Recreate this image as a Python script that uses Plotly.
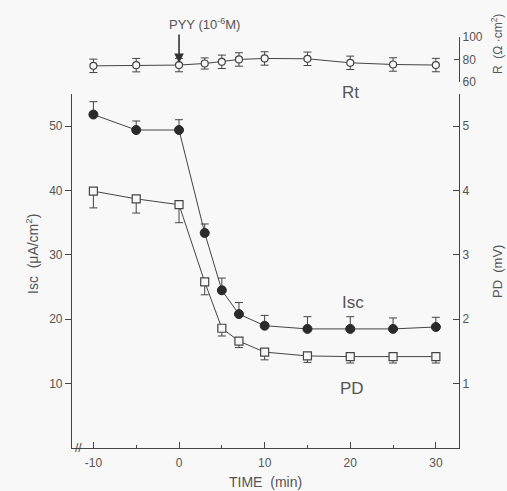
import plotly.graph_objects as go

time_min = [-10, -5, 0, 3, 5, 7, 10, 15, 20, 25, 30]
isc_mean = [51.8, 49.4, 49.4, 33.4, 24.5, 20.8, 19.0, 18.5, 18.5, 18.5, 18.8]
isc_err_up = [2.0, 1.4, 1.6, 1.4, 1.9, 1.8, 1.6, 1.9, 1.9, 1.7, 1.5]
pd_mean = [3.99, 3.87, 3.78, 2.58, 1.86, 1.66, 1.49, 1.43, 1.42, 1.42, 1.42]
pd_err_down = [0.26, 0.22, 0.28, 0.20, 0.12, 0.10, 0.12, 0.10, 0.10, 0.10, 0.10]
rt_mean = [74.3, 74.9, 75.0, 76.4, 77.9, 80.0, 80.9, 80.6, 77.0, 75.5, 75.0]
rt_err = [6, 6, 6, 5, 6, 6, 6, 6, 6, 6, 6]

x_ticks = [-10, 0, 10, 20, 30]
x_tick_text = ["-10", "0", "10", "20", "30"]
x_minor = [-5, 5, 15, 25]
isc_ticks = [10, 20, 30, 40, 50]
pd_ticks = [1, 2, 3, 4, 5]
rt_ticks = [60, 80, 100]

BG = "#f8f8f8"
LC = "#444444"
TC = "#555555"
FONT = "Liberation Sans"

fig = go.Figure()

fig.add_trace(go.Scatter(
    x=time_min, y=isc_mean, mode="lines+markers", xaxis="x", yaxis="y",
    line=dict(color=LC, width=1),
    marker=dict(symbol="circle", size=9, color="#2a2a2a", line=dict(color="#2a2a2a", width=1)),
    error_y=dict(type="data", symmetric=False, array=isc_err_up,
                 arrayminus=[0] * len(isc_err_up), color=LC, thickness=1, width=4),
    showlegend=False,
))

fig.add_trace(go.Scatter(
    x=time_min, y=pd_mean, mode="lines+markers", xaxis="x", yaxis="y2",
    line=dict(color=LC, width=1),
    marker=dict(symbol="square", size=8, color=BG, line=dict(color=LC, width=1.2)),
    error_y=dict(type="data", symmetric=False, array=[0] * len(pd_err_down),
                 arrayminus=pd_err_down, color=LC, thickness=1, width=4),
    showlegend=False,
))

fig.add_trace(go.Scatter(
    x=time_min, y=rt_mean, mode="lines+markers", xaxis="x2", yaxis="y3",
    line=dict(color=LC, width=1),
    marker=dict(symbol="circle", size=7, color=BG, line=dict(color=LC, width=1.2)),
    error_y=dict(type="data", array=rt_err, color=LC, thickness=1, width=4),
    showlegend=False, cliponaxis=False,
))

xr = [-12.5, 32.7]
axis_font = dict(family=FONT, size=12, color=TC)

fig.update_layout(
    width=507, height=491,
    margin=dict(l=72, r=48, t=30, b=43),
    paper_bgcolor=BG, plot_bgcolor=BG,
    font=dict(family=FONT, color=TC),
    xaxis=dict(
        domain=[0, 1], range=xr, anchor="y",
        showline=True, linecolor=LC, linewidth=1.2, showgrid=False, zeroline=False,
        tickmode="array", tickvals=x_ticks, ticktext=x_tick_text,
        ticks="inside", ticklen=6, tickcolor=LC,
        tickfont=axis_font, ticklabelstandoff=3,
        minor=dict(tickmode="array", tickvals=x_minor, ticks="inside", ticklen=3, tickcolor=LC),
    ),
    yaxis=dict(
        domain=[0, 0.847], range=[0, 55], anchor="x",
        showline=True, linecolor=LC, linewidth=1.2, showgrid=False, zeroline=False,
        tickmode="array", tickvals=isc_ticks, ticks="outside", ticklen=6, tickcolor=LC,
        tickfont=axis_font,
    ),
    yaxis2=dict(
        domain=[0, 0.847], range=[0, 5.5], anchor="x", overlaying="y", side="right",
        showline=True, linecolor=LC, linewidth=1.2, showgrid=False, zeroline=False,
        tickmode="array", tickvals=pd_ticks, ticks="inside", ticklen=6, tickcolor=LC,
        tickfont=axis_font,
    ),
    xaxis2=dict(domain=[0, 1], range=xr, anchor="y3", visible=False),
    yaxis3=dict(
        domain=[0.876, 0.983], range=[60, 100], anchor="x2", side="right",
        showline=True, linecolor=LC, linewidth=1.2, showgrid=False, zeroline=False,
        tickmode="array", tickvals=rt_ticks, ticks="inside", ticklen=5, tickcolor=LC,
        tickfont=axis_font,
    ),
)

W = 507 - 72 - 48
H = 491 - 30 - 43


def px(xp):
    return (xp - 72) / W


def py(yp):
    return (448 - yp) / H


# arrow for PYY
fig.add_annotation(x=0, y=py(63), xref="x", yref="paper", text="", showarrow=True,
                   ax=0, ay=-30, arrowhead=2, arrowsize=1.2, arrowwidth=1.6,
                   arrowcolor="#333333")

labels = [
    dict(text="PYY (10<sup>-6</sup>M)", x=px(204), y=py(24), size=13, angle=0),
    dict(text="Rt", x=px(350), y=py(92), size=17, angle=0),
    dict(text="Isc", x=px(353), y=py(302), size=17, angle=0),
    dict(text="PD", x=px(352), y=py(388), size=17, angle=0),
    dict(text="Isc  (\u03bcA/cm<sup>2</sup>)", x=px(32), y=py(254), size=14, angle=-90),
    dict(text="PD  (mV)", x=px(497), y=py(272), size=13, angle=-90),
    dict(text="R  (\u03a9 \u00b7cm<sup>2</sup>)", x=px(497), y=py(44), size=12, angle=-90),
    dict(text="TIME  (min)", x=px(265), y=py(482), size=14, angle=0),
]
for lb in labels:
    fig.add_annotation(x=lb["x"], y=lb["y"], xref="paper", yref="paper", text=lb["text"],
                       showarrow=False, textangle=lb["angle"],
                       xanchor="center", yanchor="middle",
                       font=dict(family=FONT, size=lb["size"], color=TC))

# axis break mark
fig.add_annotation(x=-11.7, y=0, xref="x", yref="y", text="//", showarrow=False,
                   xanchor="center", yanchor="middle",
                   font=dict(family=FONT, size=12, color=LC))

fig.write_html(
    "out.html",
    config={"displayModeBar": False},
    post_script="document.body.style.margin='0';document.body.style.overflow='hidden';",
)
